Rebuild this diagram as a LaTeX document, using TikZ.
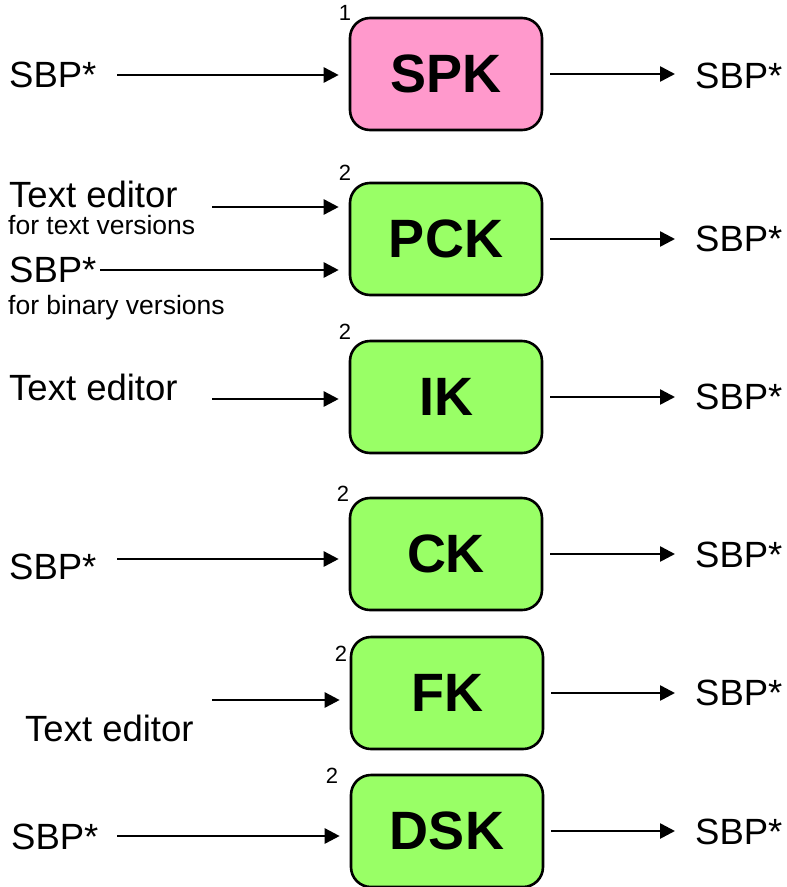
\documentclass[tikz,border=0pt]{standalone}
\usepackage{fontspec}
\setmainfont{Liberation Sans}
\usetikzlibrary{arrows.meta,positioning}
\definecolor{spkpink}{HTML}{FF99CC}
\definecolor{kgreen}{HTML}{99FF66}

\begin{document}
\begin{tikzpicture}[
    x=1pt, y=-1pt,
    kbox/.style={
        rectangle,
        draw,
        line width=2.6pt,
        fill=kgreen,
        rounded corners=20pt,
        minimum width=192pt,
        minimum height=112pt,
        inner sep=0pt,
        font=\fontsize{54}{60}\selectfont\bfseries
    },
    big/.style={inner sep=0pt, font=\fontsize{36.5}{40}\selectfont},
    small/.style={inner sep=0pt, font=\fontsize{26.5}{30}\selectfont},
    num/.style={inner sep=0pt, font=\fontsize{22}{24}\selectfont},
    line/.style={
        draw, line width=2.6pt, -{Triangle[length=15pt,width=15pt]}
    },
    inflow/.style={line, shorten >=10pt},
    outflow/.style={line, shorten <=7pt, shorten >=20pt}
]
\useasboundingbox (0,0) rectangle (787,887);

% Nodes
\node [kbox, fill=spkpink] (spk) at (446,74) {SPK};
\node [kbox] (pck) at (446,239) {PCK};
\node [kbox] (ik) at (446,397) {IK};
\node [kbox] (ck) at (446,554) {CK};
\node [kbox] (fk) at (447,693) {FK};
\node [kbox] (dsk) at (447,831) {DSK};

\node [num] (n-spk) at (345,13) {1};
\node [num] (n-pck) at (345,173) {2};
\node [num] (n-ik) at (345,332) {2};
\node [num] (n-ck) at (343,494) {2};
\node [num] (n-fk) at (341,654) {2};
\node [num] (n-dsk) at (332,776) {2};

% Inputs
\node [big, anchor=west] (spk-i) at (9,75) {SBP*};
\node [big, anchor=base west] (pck-i1) at (9,207) {Text editor};
\node [small, anchor=base west] (pck-n1) at (8,234) {for text versions};
\node [big, anchor=west] (pck-i2) at (9,270) {SBP*};
\node [small, anchor=base west] (pck-n2) at (8,314) {for binary versions};
\node [big, anchor=base west] (ik-i) at (9,400) {Text editor};
\node [big, anchor=west] (ck-i) at (9,567) {SBP*};
\node [big, anchor=base west] (fk-i) at (25,741) {Text editor};
\node [big, anchor=west] (dsk-i) at (11,837) {SBP*};

% Outputs
\node [big, anchor=west] (spk-o) at (695,76) {SBP*};
\node [big, anchor=west] (pck-o) at (695,239) {SBP*};
\node [big, anchor=west] (ik-o) at (695,397) {SBP*};
\node [big, anchor=west] (ck-o) at (695,555) {SBP*};
\node [big, anchor=west] (fk-o) at (695,693) {SBP*};
\node [big, anchor=west] (dsk-o) at (695,832) {SBP*};

% Arrow starts
\coordinate (spk-a) at (117,75);
\coordinate (pck-a1) at (212,207);
\coordinate (pck-a2) at (100,270);
\coordinate (ik-a) at (212,399);
\coordinate (ck-a) at (117,559);
\coordinate (fk-a) at (212,700);
\coordinate (dsk-a) at (117,836);

% Arrows
\draw [inflow] (spk-a) -- (spk-a -| spk.west);
\draw [inflow] (pck-a1) -- (pck-a1 -| pck.west);
\draw [inflow] (pck-a2) -- (pck-a2 -| pck.west);
\draw [inflow] (ik-a) -- (ik-a -| ik.west);
\draw [inflow] (ck-a) -- (ck-a -| ck.west);
\draw [inflow] (fk-a) -- (fk-a -| fk.west);
\draw [inflow] (dsk-a) -- (dsk-a -| dsk.west);

\draw [outflow] (spk.east |- 0,74) -- (spk-o.west |- 0,74);
\draw [outflow] (pck.east) -- (pck-o.west |- pck.east);
\draw [outflow] (ik.east) -- (ik-o.west |- ik.east);
\draw [outflow] (ck.east) -- (ck-o.west |- ck.east);
\draw [outflow] (fk.east) -- (fk-o.west |- fk.east);
\draw [outflow] (dsk.east) -- (dsk-o.west |- dsk.east);

\end{tikzpicture}
\end{document}
